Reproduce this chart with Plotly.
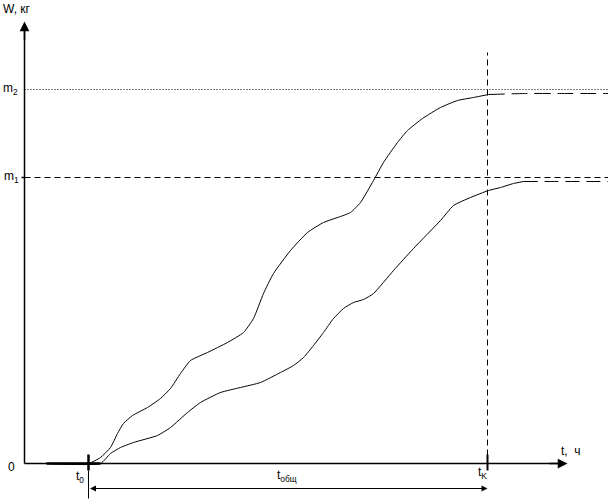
import plotly.graph_objects as go

# Curve values (time units, mass units); origin at the axes crossing
upper_t = [22, 64, 76, 86, 93, 99, 108, 123, 136, 146, 156, 166, 183, 203, 219, 229, 239, 249,
           266, 283, 299, 316, 326, 336, 349, 359, 373, 383, 398, 416, 433, 449, 464]
upper_w = [0, 0, 6, 16, 30, 40, 48, 56, 65, 75, 90, 103, 111, 121, 131, 145, 170, 190,
           213, 231, 241, 247, 251, 261, 283, 301, 321, 333, 345, 356, 363, 366, 369]
upper_tail_t = [464, 500, 540, 584]
upper_tail_w = [369, 370, 370, 370]

lower_t = [22, 76, 86, 96, 109, 133, 146, 163, 176, 196, 216, 236, 256, 269, 279, 289, 299,
           309, 319, 329, 339, 349, 369, 389, 416, 429, 446, 464, 476, 489, 499]
lower_w = [0, 0, 10, 16, 21, 28, 36, 51, 61, 71, 76, 81, 91, 98, 106, 118, 131,
           145, 155, 161, 164, 170, 193, 215, 243, 258, 266, 273, 276, 280, 282]
lower_tail_t = [499, 530, 584]
lower_tail_w = [282, 282, 282]

# Key levels and times
m1 = 286
m2 = 374
t0 = 64
tk = 463

# half-unit offset keeps 1px lines on pixel centres (crisp black, not grey)
X_RANGE = [-24.5, 583.5]
Y_RANGE = [-35.5, 463.5]
X_END = 543
Y_END = 442
FONT = "Liberation Sans, Arial, sans-serif"

fig = go.Figure()

# Main curves: solid part, then long-dash continuation
for xs, ys, dash in [(upper_t, upper_w, "solid"), (upper_tail_t, upper_tail_w, "16px,7px"),
                     (lower_t, lower_w, "solid"), (lower_tail_t, lower_tail_w, "14px,7px")]:
    fig.add_scatter(x=xs, y=ys, mode="lines", line=dict(color="black", width=1, dash=dash,
                                                          shape="spline", smoothing=0.5),
                    hoverinfo="skip", showlegend=False)

line = dict(color="black", width=1)

# Axes
fig.add_shape(type="line", x0=0, y0=0, x1=X_END - 4, y1=0, line=dict(color="black", width=1.5))
fig.add_shape(type="line", x0=0, y0=0, x1=0, y1=Y_END - 4, line=dict(color="black", width=1.5))
# Overlap of both curves at zero
fig.add_shape(type="line", x0=22, y0=0, x1=76, y1=0, line=dict(color="black", width=2.5))

# Reference levels
fig.add_shape(type="line", x0=0, y0=m2, x1=584, y1=m2, line=dict(color="black", width=1, dash="1px,2px"))
fig.add_shape(type="line", x0=0, y0=m1, x1=584, y1=m1, line=dict(color="black", width=1, dash="6px,4px"))
fig.add_shape(type="line", x0=-3, y0=m1, x1=0, y1=m1, line=dict(color="black", width=1.5))

# t_k dashed vertical and ticks
fig.add_shape(type="line", x0=tk, y0=8, x1=tk, y1=411, line=dict(color="black", width=1, dash="6px,4px"))
fig.add_shape(type="line", x0=tk, y0=-7, x1=tk, y1=9, line=dict(color="black", width=2))
fig.add_shape(type="line", x0=t0, y0=-7, x1=t0, y1=9, line=dict(color="black", width=2.5))
fig.add_shape(type="line", x0=t0, y0=-7, x1=t0, y1=-35, line=line)

annotations = []
# Axis arrows
annotations.append(dict(x=X_END, y=0, ax=X_END - 20, ay=0, xref="x", yref="y", axref="x", ayref="y",
                        showarrow=True, arrowhead=2, arrowsize=1.3, arrowwidth=1.5, arrowcolor="black", text=""))
annotations.append(dict(x=0, y=Y_END, ax=0, ay=Y_END - 20, xref="x", yref="y", axref="x", ayref="y",
                        showarrow=True, arrowhead=2, arrowsize=1.3, arrowwidth=1.5, arrowcolor="black", text=""))
# Duration arrow
annotations.append(dict(x=tk, y=-25, ax=t0, ay=-25, xref="x", yref="y", axref="x", ayref="y",
                        showarrow=True, arrowhead=2, startarrowhead=2, arrowside="end+start",
                        arrowsize=1.2, startarrowsize=1.2, arrowwidth=1, arrowcolor="black", text=""))

labels = [
    ("W, кг", -24, 455, "left"),
    ("m<sub>2</sub>", -5, m2 + 1, "right"),
    ("m<sub>1</sub>", -4, m1 + 1, "right"),
    ("0", -8, -3, "right"),
    ("t<sub>0</sub>", t0 - 3, -13, "right"),
    ("t<sub>общ</sub>", 262, -12, "center"),
    ("t<sub>K</sub>", tk - 5, -9, "center"),
    ("t,  ч", 534, 13, "left"),
]
for text, x, y, xanchor in labels:
    annotations.append(dict(text=text, x=x, y=y, xref="x", yref="y", showarrow=False,
                            xanchor=xanchor, yanchor="middle",
                            font=dict(family=FONT, size=12, color="black")))

fig.update_layout(
    width=608, height=499,
    margin=dict(l=0, r=0, t=0, b=0),
    paper_bgcolor="white", plot_bgcolor="white",
    xaxis=dict(range=X_RANGE, visible=False, fixedrange=True),
    yaxis=dict(range=Y_RANGE, visible=False, fixedrange=True),
    annotations=annotations,
    showlegend=False,
)

# page margin off so the figure sits at the window corner
fig.write_html("out.html", config={"displayModeBar": False},
               post_script="document.body.style.margin='0';document.body.style.overflow='hidden';")
